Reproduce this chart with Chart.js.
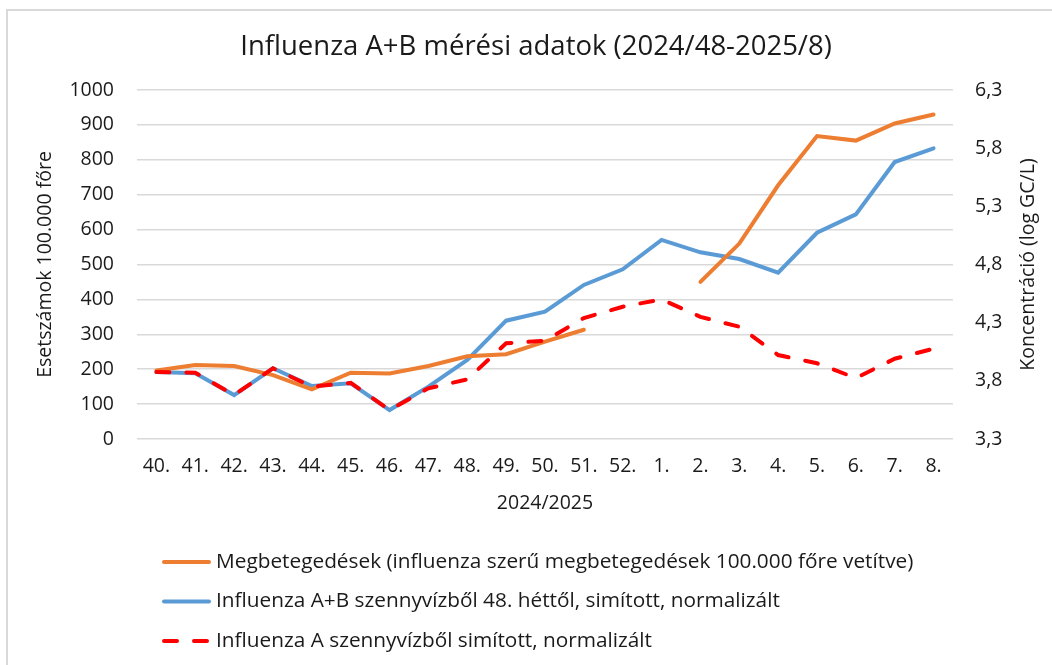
<!DOCTYPE html>
<html>
<head>
<meta charset="utf-8">
<script src="https://cdn.jsdelivr.net/npm/chart.js@4.4.1/dist/chart.umd.min.js"></script>
<style>
  html, body { margin: 0; padding: 0; background: #fff; }
  #wrap { width: 1052px; height: 665px; }
</style>
</head>
<body>
<div id="wrap"><canvas id="fluChart" width="1052" height="665"></canvas></div>
<script>
// ── Data ───────────────────────────────────────────
const weeks = ['40.', '41.', '42.', '43.', '44.', '45.', '46.', '47.', '48.', '49.', '50.', '51.', '52.',
               '1.', '2.', '3.', '4.', '5.', '6.', '7.', '8.'];

// cases per 100.000 (left axis), gap at 52. and 1.
const cases = [196, 212, 209, 183, 142, 190, 188, 209, 237, 243, 279, 313, null,
               null, 450, 560, 727, 868, 855, 904, 930];

// wastewater concentration, log GC/L (right axis)
const abWaste = [3.876, 3.865, 3.678, 3.908, 3.756, 3.779, 3.549, 3.75, 3.979, 4.317, 4.394, 4.624, 4.759,
                 5.011, 4.905, 4.847, 4.730, 5.073, 5.231, 5.681, 5.799];
const aWaste  = [3.876, 3.87, 3.678, 3.908, 3.75, 3.782, 3.549, 3.736, 3.813, 4.123, 4.145, 4.34, 4.437,
                 4.50, 4.35, 4.265, 4.022, 3.951, 3.824, 3.99, 4.076];

const seriesNames = [
  'Megbetegedések (influenza szerű megbetegedések 100.000 főre vetítve)',
  'Influenza A+B szennyvízből 48. héttől, simított, normalizált',
  'Influenza A szennyvízből simított, normalizált'
];

const FONT = "'Open Sans', 'Noto Sans', sans-serif";
const TEXT = '#1a1a1a';

// ── Frame, right axis title, legend ────────────────
const extras = {
  id: 'extras',
  beforeDraw(chart) {
    const ctx = chart.ctx;
    ctx.save();
    ctx.strokeStyle = '#d9d9d9';
    ctx.lineWidth = 2;
    ctx.strokeRect(7, 10, 1060, 700);
    ctx.restore();
  },
  afterDraw(chart) {
    const ctx = chart.ctx;
    const area = chart.chartArea;
    ctx.save();
    ctx.fillStyle = TEXT;
    ctx.font = `19.5px ${FONT}`;
    ctx.textAlign = 'center';
    ctx.textBaseline = 'middle';
    ctx.translate(1028, (area.top + area.bottom) / 2);
    ctx.rotate(-Math.PI / 2);
    ctx.fillText('Koncentráció (log GC/L)', 0, 0);
    ctx.restore();

    // legend, one item per row
    ctx.save();
    ctx.font = `20.8px ${FONT}`;
    ctx.textBaseline = 'middle';
    ctx.textAlign = 'left';
    chart.data.datasets.forEach((ds, i) => {
      const y = 562 + i * 39.5;
      ctx.strokeStyle = ds.borderColor;
      ctx.lineWidth = ds.borderWidth;
      ctx.lineCap = 'round';
      ctx.setLineDash(ds.borderDash || []);
      ctx.beginPath();
      ctx.moveTo(164, y);
      ctx.lineTo(209, y);
      ctx.stroke();
      ctx.setLineDash([]);
      ctx.fillStyle = TEXT;
      ctx.fillText(ds.label, 216, y);
    });
    ctx.restore();
  }
};

new Chart(document.getElementById('fluChart'), {
  type: 'line',
  data: {
    labels: weeks,
    datasets: [
      {
        label: seriesNames[0], data: cases, yAxisID: 'y',
        borderColor: '#ED7D31', borderWidth: 4, pointRadius: 0, tension: 0,
        spanGaps: false, borderCapStyle: 'round', order: 1
      },
      {
        label: seriesNames[1], data: abWaste, yAxisID: 'y1',
        borderColor: '#5B9BD5', borderWidth: 4, pointRadius: 0, tension: 0,
        borderCapStyle: 'round', order: 2
      },
      {
        label: seriesNames[2], data: aWaste, yAxisID: 'y1',
        borderColor: '#FF0000', borderWidth: 4, pointRadius: 0, tension: 0,
        borderDash: [13, 17], borderCapStyle: 'round', order: 0
      }
    ]
  },
  options: {
    responsive: false,
    animation: false,
    layout: { padding: { left: 20, right: 0, top: 0, bottom: 146 } },
    plugins: {
      legend: { display: false },
      tooltip: { enabled: false },
      title: {
        display: true,
        text: 'Influenza A+B mérési adatok (2024/48-2025/8)',
        color: TEXT,
        font: { family: FONT, size: 27.5, weight: 'normal', lineHeight: 1.2 },
        padding: { top: 31, bottom: 26 }
      }
    },
    scales: {
      x: {
        offset: true,
        grid: { display: false, drawTicks: false },
        border: { display: false },
        ticks: { color: TEXT, font: { family: FONT, size: 19.5 }, padding: 16, maxRotation: 0, autoSkip: false },
        title: { display: true, text: '2024/2025', color: TEXT, font: { family: FONT, size: 19.5 }, padding: { top: 0, bottom: 4 } },
        afterFit: s => { s.height = 80; }
      },
      y: {
        position: 'left',
        min: 0, max: 1000,
        ticks: {
          stepSize: 100, color: TEXT, font: { family: FONT, size: 19.5 }, padding: 23,
          callback: v => String(v)
        },
        grid: { color: '#d9d9d9', lineWidth: 1.5, drawTicks: false },
        border: { display: false },
        title: { display: true, text: 'Esetszámok 100.000 főre', color: TEXT, font: { family: FONT, size: 19.5 }, padding: { top: 14, bottom: 0 } },
        afterFit: s => { s.width = 117; }
      },
      y1: {
        position: 'right',
        min: 3.3, max: 6.3,
        ticks: {
          stepSize: 0.5, color: TEXT, font: { family: FONT, size: 19.5 }, padding: 22,
          callback: v => v.toFixed(1).replace('.', ',')
        },
        grid: { display: false, drawTicks: false },
        border: { display: false },
        afterFit: s => { s.width = 99; }
      }
    }
  },
  plugins: [extras]
});
</script>
</body>
</html>
